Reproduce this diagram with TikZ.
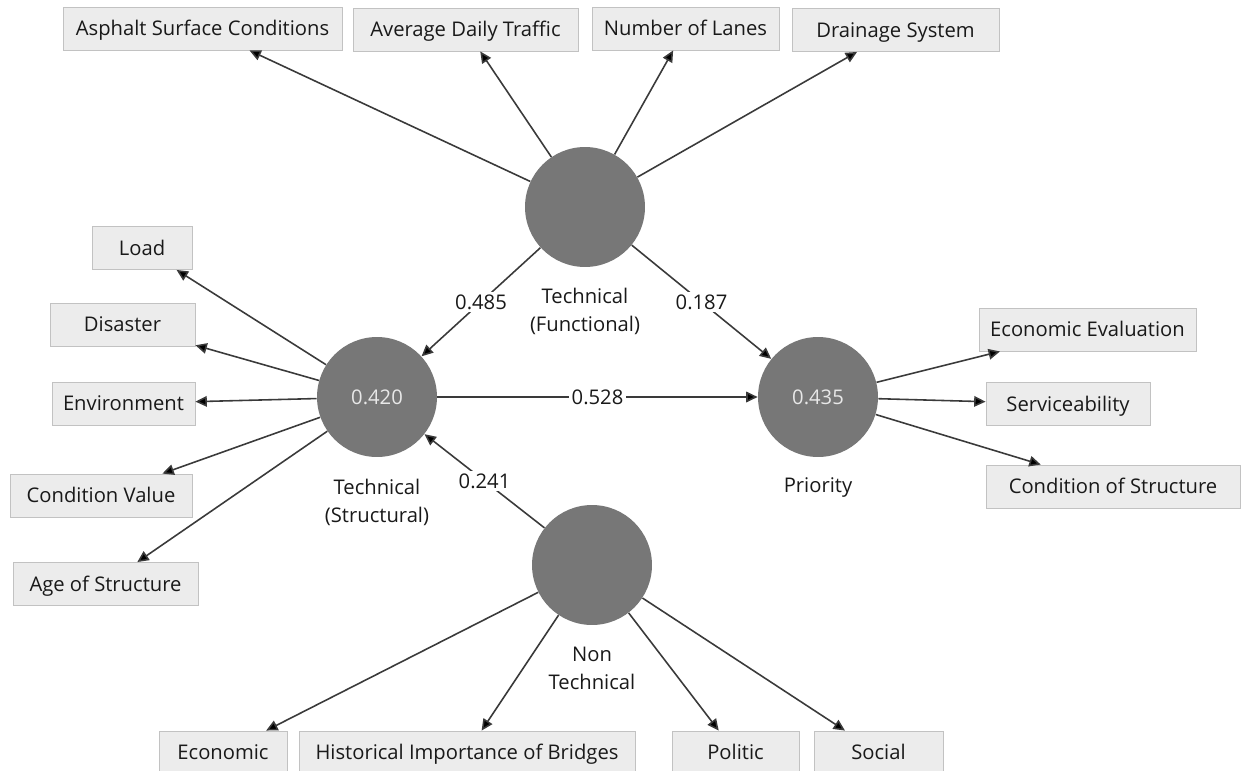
\documentclass[tikz,border=0pt]{standalone}
\usepackage{fontspec}
\usepackage{tikz}
\usetikzlibrary{arrows.meta}
\setmainfont{Open Sans}
\definecolor{boxfill}{HTML}{ECECEC}
\definecolor{boxedge}{HTML}{C2C2C2}
\definecolor{latfill}{HTML}{777777}
\definecolor{latnum}{HTML}{E8E8E8}
\definecolor{linkgray}{HTML}{3A3A3A}
\begin{document}
\begin{tikzpicture}[x=0.02cm, y=-0.02cm,
    font=\fontsize{11.5}{16}\selectfont,
    indbox/.style={draw=boxedge, fill=boxfill, line width=0.5pt, minimum height=0.86cm, inner sep=0pt, text height=0.9em, text depth=0.1em, text=black!90},
    latent/.style={circle, fill=latfill, minimum size=2.4cm, inner sep=0pt, text=latnum},
    lbl/.style={align=center, text=black!90},
    link/.style={draw=linkgray, line width=0.9pt, -{Triangle[length=6.5pt, width=6pt, fill=black]}},
    coef/.style={fill=white, inner sep=1.5pt, text=black!90, midway}]
    \useasboundingbox (0,0) rectangle (1242,771);
    \clip (0,0) rectangle (1242,771);

    % Latent variables
    \node[latent] (func) at (585,207) {};
    \node[latent] (struct) at (377,397) {0.420};
    \node[latent] (prio) at (818,397) {0.435};
    \node[latent] (nontech) at (592,565) {};

    \node[lbl] (funclbl) at (585,311) {Technical\\(Functional)};
    \node[lbl] (structlbl) at (377,502) {Technical\\(Structural)};
    \node[lbl] (priolbl) at (818,488) {Priority};
    \node[lbl] (nontechlbl) at (592,668) {Non\\Technical};

    % Indicators (top)
    \node[indbox, minimum width=5.58cm] (surface) at (202.5,28.5) {Asphalt Surface Conditions};
    \node[indbox, minimum width=4.5cm] (traffic) at (465.5,29.5) {Average Daily Traffic};
    \node[indbox, minimum width=3.74cm] (lanes) at (685.5,28.5) {Number of Lanes};
    \node[indbox, minimum width=4.14cm] (drainage) at (895.5,30) {Drainage System};

    % Indicators (left)
    \node[indbox, minimum width=2.0cm] (load) at (142,248) {Load};
    \node[indbox, minimum width=2.9cm] (disaster) at (122.5,324.5) {Disaster};
    \node[indbox, minimum width=2.86cm] (environment) at (123.5,403.5) {Environment};
    \node[indbox, minimum width=3.64cm] (condvalue) at (101,495.5) {Condition Value};
    \node[indbox, minimum width=3.7cm] (age) at (105.5,584) {Age of Structure};

    % Indicators (right)
    \node[indbox, minimum width=4.34cm] (econeval) at (1087.5,329.5) {Economic Evaluation};
    \node[indbox, minimum width=3.28cm] (service) at (1068,404) {Serviceability};
    \node[indbox, minimum width=5.08cm] (condstruct) at (1113,486.5) {Condition of Structure};

    % Indicators (bottom)
    \node[indbox, minimum width=2.56cm] (economic) at (223,752.5) {Economic};
    \node[indbox, minimum width=6.72cm] (historic) at (467,752.5) {Historical Importance of Bridges};
    \node[indbox, minimum width=2.54cm] (politic) at (735.5,752.5) {Politic};
    \node[indbox, minimum width=2.58cm] (social) at (878.5,752.5) {Social};

    % Outer loadings
    \foreach \ind in {surface, traffic, lanes, drainage}
        \draw[link] (func) -- (\ind);
    \foreach \ind in {load, disaster, environment, condvalue, age}
        \draw[link] (struct) -- (\ind);
    \foreach \ind in {econeval, service, condstruct}
        \draw[link] (prio) -- (\ind);
    \foreach \ind in {economic, historic, politic, social}
        \draw[link] (nontech) -- (\ind);

    % Path coefficients
    \draw[link] (func) -- (struct) node[coef] {0.485};
    \draw[link] (func) -- (prio) node[coef] {0.187};
    \draw[link] (struct) -- (prio) node[coef] {0.528};
    \draw[link] (nontech) -- (struct) node[coef] {0.241};
\end{tikzpicture}
\end{document}
